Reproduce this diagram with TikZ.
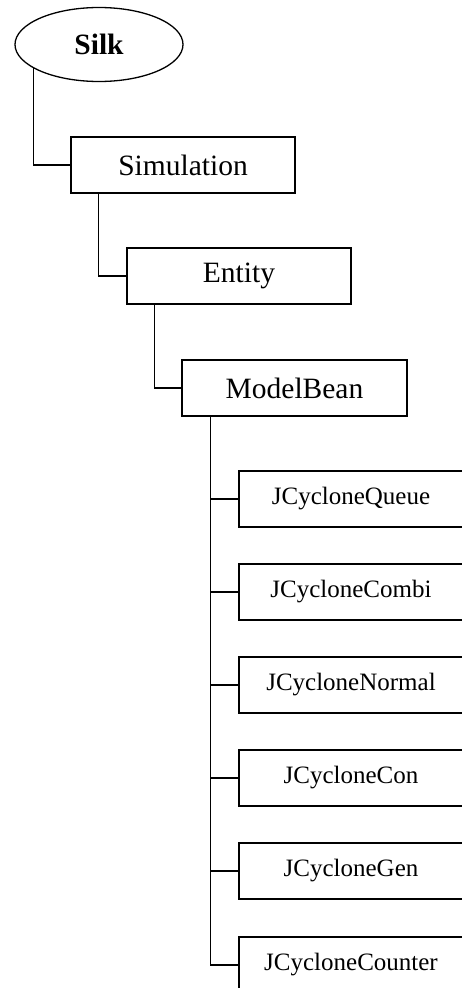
\documentclass[tikz,border=0pt]{standalone}
\usepackage{fontspec}
\setmainfont{Liberation Serif}
\usetikzlibrary{positioning,shapes.geometric,calc}

\begin{document}
\begin{tikzpicture}[x=1pt, y=-1pt, line width=1.3pt,
    every node/.style={
    rectangle,
    inner sep=0pt,
    draw,
    minimum width=224,
    minimum height=56,
    font=\fontsize{29.5}{35}\selectfont
},
    leaf_box/.style={font=\fontsize{25}{30}\selectfont}
]
    \useasboundingbox (0,0) rectangle (462,988);
    \clip (0,0) rectangle (462,988);

    \node (silk) [ellipse, minimum width=168, minimum height=74, shift={(99, 44.5)}]
    {
        \bfseries Silk
    };
    \node (simulation) [shift={(183, 165)}]
    {
        Simulation
    };
    \node (entity) [shift={(239, 276)}]
    {
        Entity
    };
    \node (model_bean) [minimum width=225, shift={(294.5, 388)}]
    {
        ModelBean
    };


    \node (j_cyclone_queue) [leaf_box, shift={(351, 499)}]
    {
        JCycloneQueue
    };
    \node (j_cyclone_combi) [leaf_box, shift={(351, 592)}]
    {
        JCycloneCombi
    };
    \node (j_cyclone_normal) [leaf_box, shift={(351, 685)}]
    {
        JCycloneNormal
    };
    \node (j_cyclone_con) [leaf_box, shift={(351, 778)}]
    {
        JCycloneCon
    };
    \node (j_cyclone_gen) [leaf_box, shift={(351, 871)}]
    {
        JCycloneGen
    };
    \node (j_cyclone_counter) [leaf_box, shift={(351, 965)}]
    {
        JCycloneCounter
    };

    \draw (silk.200) |- (simulation.west);
    \draw ($(simulation.south west)+(28,0)$) |- (entity.west);
    \draw ($(entity.south west)+(28,0)$) |- (model_bean.west);

    \draw ($(model_bean.south west)+(29,0)$) |- (j_cyclone_queue.west);
    \draw ($(model_bean.south west)+(29,0)$) |- (j_cyclone_combi.west);
    \draw ($(model_bean.south west)+(29,0)$) |- (j_cyclone_normal.west);
    \draw ($(model_bean.south west)+(29,0)$) |- (j_cyclone_con.west);
    \draw ($(model_bean.south west)+(29,0)$) |- (j_cyclone_gen.west);
    \draw ($(model_bean.south west)+(29,0)$) |- (j_cyclone_counter.west);
\end{tikzpicture}
\end{document}
